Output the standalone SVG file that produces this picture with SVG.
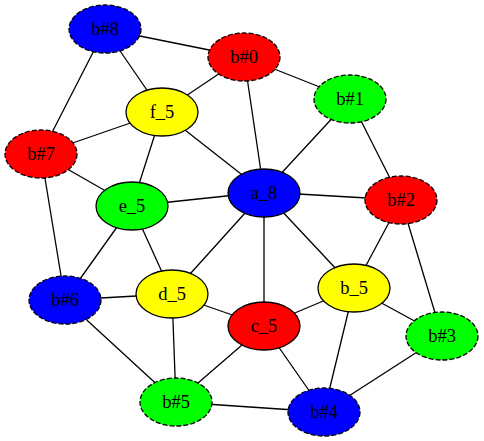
<svg xmlns="http://www.w3.org/2000/svg" width="484" height="441" viewBox="0 0 484 441">
<style>
.e{stroke:#000;stroke-width:1.3;fill:none}
ellipse{stroke:#000;stroke-width:1.3}
.d{stroke-dasharray:5,2}
text{font-family:"Liberation Serif","Times New Roman",serif;font-size:18.5px;text-anchor:middle;dominant-baseline:central;fill:#000}
</style>
<rect width="484" height="441" fill="#fff"/>
<g id="edges">
<path class="e" d="M105,29L244,57M105,29L162,112M105,29L41,154M244,57L162,112M244,57L264,192M244,57L350,99M350,99L264,192M350,99L401,200M162,112L41,154M162,112L132,206M162,112L264,192M41,154L132,206M41,154L65,300M132,206L264,192M132,206L65,300M132,206L172,294M264,192L401,200M264,192L172,294M264,192L264,326M264,192L354,288M401,200L354,288M401,200L442,336M65,300L172,294M65,300L176,402M172,294L264,326M172,294L176,402M264,326L354,288M264,326L176,402M264,326L324,412M354,288L442,336M354,288L324,412M442,336L324,412M176,402L324,412"/>
</g>
<g id="b8"><ellipse class="d" cx="105" cy="29" rx="36" ry="24" fill="#0000ff"/><text x="105" y="29">b#8</text></g>
<g id="b0"><ellipse class="d" cx="244" cy="57" rx="36" ry="24" fill="#ff0000"/><text x="244" y="57">b#0</text></g>
<g id="b1"><ellipse class="d" cx="350" cy="99" rx="36" ry="24" fill="#00ff00"/><text x="350" y="99">b#1</text></g>
<g id="f5"><ellipse cx="162" cy="112" rx="36" ry="24" fill="#ffff00"/><text x="162" y="112">f_5</text></g>
<g id="b7"><ellipse class="d" cx="41" cy="154" rx="36" ry="24" fill="#ff0000"/><text x="41" y="154">b#7</text></g>
<g id="e5"><ellipse cx="132" cy="206" rx="36" ry="24" fill="#00ff00"/><text x="132" y="206">e_5</text></g>
<g id="a8"><ellipse cx="264" cy="193" rx="36" ry="24" fill="#0000ff"/><text x="264" y="193">a_8</text></g>
<g id="b2"><ellipse class="d" cx="401" cy="200" rx="36" ry="24" fill="#ff0000"/><text x="401" y="200">b#2</text></g>
<g id="b6"><ellipse class="d" cx="65" cy="300" rx="36" ry="24" fill="#0000ff"/><text x="65" y="300">b#6</text></g>
<g id="d5"><ellipse cx="172" cy="294" rx="36" ry="24" fill="#ffff00"/><text x="172" y="294">d_5</text></g>
<g id="c5"><ellipse cx="264" cy="326" rx="36" ry="24" fill="#ff0000"/><text x="264" y="326">c_5</text></g>
<g id="b5n"><ellipse cx="354" cy="288" rx="36" ry="24" fill="#ffff00"/><text x="354" y="288">b_5</text></g>
<g id="b3"><ellipse class="d" cx="442" cy="336" rx="36" ry="24" fill="#00ff00"/><text x="442" y="336">b#3</text></g>
<g id="b4"><ellipse class="d" cx="324" cy="412" rx="36" ry="24" fill="#0000ff"/><text x="324" y="412">b#4</text></g>
<g id="b5"><ellipse class="d" cx="176" cy="402" rx="36" ry="24" fill="#00ff00"/><text x="176" y="402">b#5</text></g>
</svg>
